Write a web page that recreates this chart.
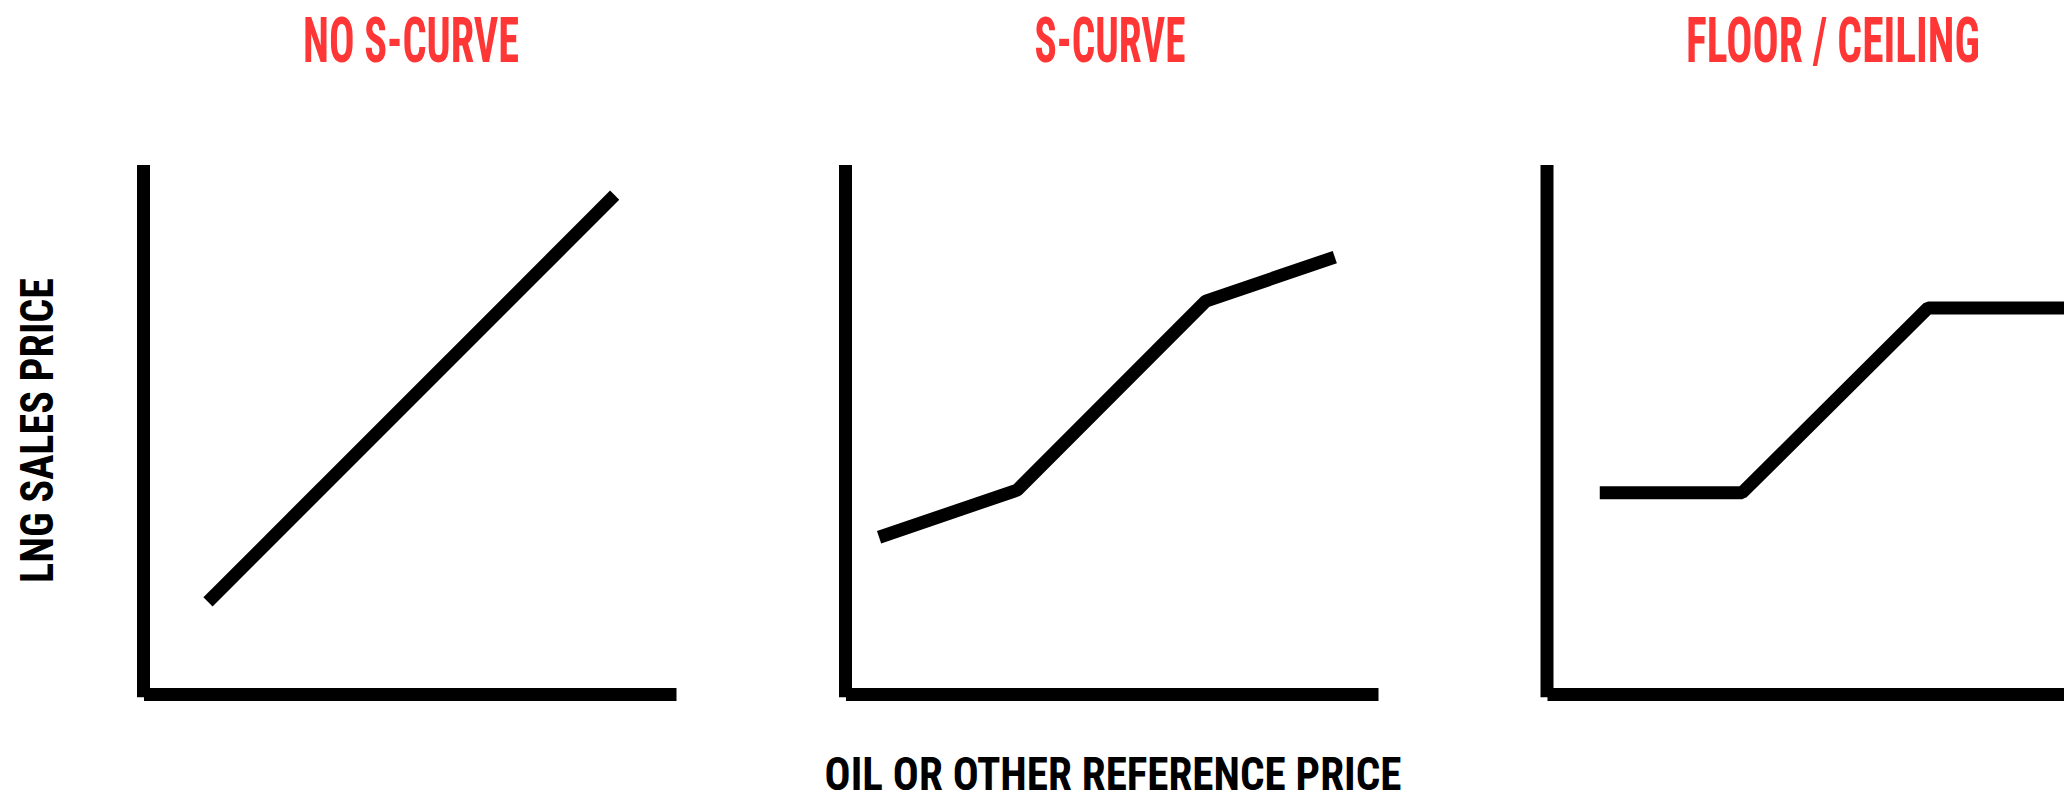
<!DOCTYPE html>
<html>
<head>
<meta charset="utf-8">
<script src="https://cdn.jsdelivr.net/npm/d3@7"></script>
<style>
  html, body { margin: 0; padding: 0; background: #fff; overflow: hidden; }
</style>
</head>
<body>
<div id="chart"></div>
<script>
// panel titles
const titles = ['NO S-CURVE', 'S-CURVE', 'FLOOR / CEILING'];

// price curves, in % of each panel's axis length (reference price -> LNG price)
const noCurveX = [12.1, 88.4];
const noCurveY = [17.5, 94.3];

const sCurveX = [6.3, 32.2, 67.6, 91.8];
const sCurveY = [29.7, 38.6, 74.3, 82.6];

const floorX = [9.9, 36.6, 71.5, 100];
const floorY = [38.1, 38.1, 73.0, 73.0];

const seriesX = [noCurveX, sCurveX, floorX];
const seriesY = [noCurveY, sCurveY, floorY];

const yLabel = 'LNG SALES PRICE';
const xLabel = 'OIL OR OTHER REFERENCE PRICE';

const width = 2064;
const height = 801;

// layout of each small panel
const panelLeft = [143.5, 845.5, 1547];
const panelWidth = 533;
const titleCenter = [411, 1110, 1833];
const titleWidth = [216, 151, 294];
const axisTop = 165;
const axisBottom = 694.5;
const stroke = 13;
const red = '#ff3636';
const fontStack = '"Roboto Condensed", "Liberation Sans Narrow", "DejaVu Sans Condensed", Roboto, sans-serif';

const svg = d3
  .select('#chart')
  .append('svg')
  .attr('width', width)
  .attr('height', height);

// squeeze a text horizontally so it is exactly `len` wide (condensed poster look)
const addText = (x, y, rotate, len, size, color, str) => {
  const g = svg.append('g');
  const t = g
    .append('text')
    .attr('text-anchor', 'middle')
    .style('font-family', fontStack)
    .style('font-weight', 'bold')
    .style('font-size', size + 'px')
    .style('fill', color)
    .text(str);
  const natural = t.node().getComputedTextLength();
  g.attr(
    'transform',
    `translate(${x}, ${y}) rotate(${rotate}) scale(${len / natural}, 1)`
  );
  return t;
};

titles.forEach((title, i) => {
  const xScale = d3
    .scaleLinear()
    .domain([0, 100])
    .range([panelLeft[i], panelLeft[i] + panelWidth]);

  const yScale = d3
    .scaleLinear()
    .domain([0, 100])
    .range([axisBottom, axisTop]);

  const g = svg.append('g').attr('class', 'panel');

  // title
  addText(titleCenter[i], 61.5, 0, titleWidth[i], 63, red, title);

  // axes as heavy bars
  g.append('line')
    .attr('x1', xScale(0))
    .attr('x2', xScale(0))
    .attr('y1', yScale(-0.5))
    .attr('y2', yScale(100))
    .attr('stroke', '#000')
    .attr('stroke-width', stroke);

  g.append('line')
    .attr('x1', xScale(0) + 0.5)
    .attr('x2', Math.min(xScale(100), width))
    .attr('y1', yScale(0))
    .attr('y2', yScale(0))
    .attr('stroke', '#000')
    .attr('stroke-width', stroke);

  // curve
  const points = seriesX[i].map((x, j) => [x, seriesY[i][j]]);
  const line = d3
    .line()
    .x(d => Math.min(xScale(d[0]), width))
    .y(d => yScale(d[1]));

  g.append('path')
    .datum(points)
    .attr('d', line)
    .style('fill', 'none')
    .attr('stroke', '#000')
    .attr('stroke-width', stroke)
    .attr('stroke-linejoin', 'bevel');
});

// shared axis labels
addText(53, 430.5, -90, 305, 46, '#000', yLabel);
addText(1113, 790, 0, 577, 46, '#000', xLabel);
</script>
</body>
</html>
